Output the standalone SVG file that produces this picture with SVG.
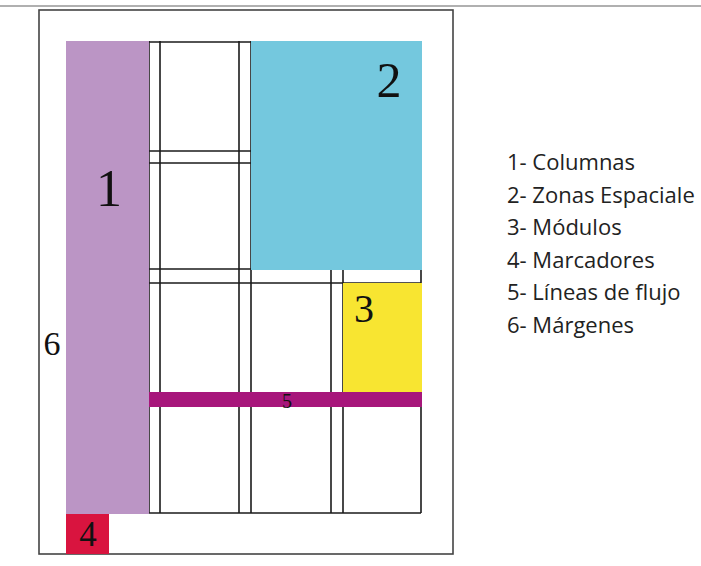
<svg xmlns="http://www.w3.org/2000/svg" width="701" height="566" viewBox="0 0 701 566">
  <style>
    .grid { stroke: #1a1a1a; stroke-width: 1.6; fill: none; }
    .num { font-family: "Liberation Serif", "Times New Roman", serif; fill: #111; text-anchor: middle; }
    .legend { font-family: "Open Sans", "Noto Sans", sans-serif; font-size: 22px; fill: #222; }
  </style>
  <rect x="0" y="0" width="701" height="566" fill="#ffffff"/>
  <line x1="0" y1="6" x2="701" y2="6" stroke="#b0b0b0" stroke-width="2"/>

  <g id="page">
    <rect x="39" y="10" width="414" height="544" fill="#ffffff" stroke="#444" stroke-width="1.6"/>
  </g>

  <g id="grid-lines">
    <line class="grid" x1="149" y1="41" x2="149" y2="513"/>
    <line class="grid" x1="160" y1="41" x2="160" y2="513"/>
    <line class="grid" x1="239" y1="41" x2="239" y2="513"/>
    <line class="grid" x1="251" y1="41" x2="251" y2="513"/>
    <line class="grid" x1="331" y1="269" x2="331" y2="513"/>
    <line class="grid" x1="343" y1="269" x2="343" y2="513"/>
    <line class="grid" x1="421" y1="269" x2="421" y2="513"/>
    <line class="grid" x1="149" y1="42" x2="251" y2="42"/>
    <line class="grid" x1="149" y1="151" x2="251" y2="151"/>
    <line class="grid" x1="149" y1="163" x2="251" y2="163"/>
    <line class="grid" x1="149" y1="269" x2="421" y2="269"/>
    <line class="grid" x1="149" y1="283" x2="421" y2="283"/>
    <line class="grid" x1="149" y1="513" x2="421" y2="513"/>
  </g>

  <g id="columnas">
    <rect x="66" y="41" width="83" height="473" fill="#bb95c5"/>
    <text class="num" x="109" y="206" font-size="52">1</text>
  </g>
  <g id="zonas-espaciales">
    <rect x="251" y="41" width="171" height="229" fill="#74c8de"/>
    <text class="num" x="389" y="97" font-size="50">2</text>
  </g>
  <g id="modulos">
    <rect x="343" y="283" width="79" height="109" fill="#f8e531"/>
    <text class="num" x="364" y="322" font-size="40">3</text>
  </g>
  <g id="lineas-de-flujo">
    <rect x="149" y="392" width="273" height="15" fill="#a7167b"/>
    <text class="num" x="287" y="408" font-size="20" fill="#3e0832">5</text>
  </g>
  <g id="marcadores">
    <rect x="66" y="514" width="43" height="40" fill="#d9143f"/>
    <text class="num" x="88" y="546" font-size="35">4</text>
  </g>
  <g id="margenes">
    <text class="num" x="52" y="355" font-size="34">6</text>
  </g>

  <g id="legend">
    <text class="legend" x="507" y="170">1- Columnas</text>
    <text class="legend" x="507" y="202.5">2- Zonas Espaciale</text>
    <text class="legend" x="507" y="235">3- Módulos</text>
    <text class="legend" x="507" y="267.5">4- Marcadores</text>
    <text class="legend" x="507" y="300">5- Líneas de flujo</text>
    <text class="legend" x="507" y="332.5">6- Márgenes</text>
  </g>
</svg>
